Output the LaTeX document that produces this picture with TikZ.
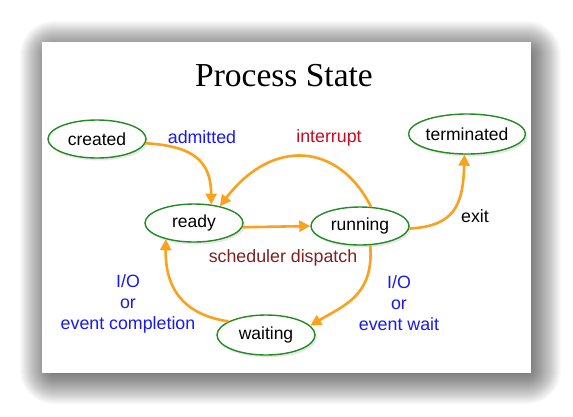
\documentclass[tikz,border=0pt]{standalone}
\usepackage{fontspec}
\setmainfont{Liberation Sans}
\newfontfamily\titlefont{Liberation Serif}
\usetikzlibrary{shapes.geometric,arrows.meta,shadows}
\definecolor{stgreen}{RGB}{34,139,34}
\definecolor{arrorange}{RGB}{250,162,30}
\definecolor{lblblue}{RGB}{25,25,240}
\definecolor{lblred}{RGB}{200,10,30}
\definecolor{lbldark}{RGB}{128,32,32}
\begin{document}
\begin{tikzpicture}[x=1pt,y=-1pt,
  state/.style={ellipse, draw=stgreen, line width=1.4pt, fill=white,
    minimum width=98pt, minimum height=38pt, inner sep=0pt,
    font=\fontsize{17.5}{17.5}\selectfont,
    drop shadow={opacity=0.18, shadow xshift=2pt, shadow yshift=-2.5pt}},
  trans/.style={draw=arrorange, line width=2.6pt,
    -{Triangle[length=11pt,width=11pt]}},
  lbl/.style={font=\fontsize{17.8}{21}\selectfont, align=center, inner sep=0pt}]
\useasboundingbox (0,0) rectangle (573,416);
\fill[white] (0,0) rectangle (573,416);
% card shadow
\foreach \s in {-6,...,26}{
  \fill[black, opacity=0.02, rounded corners={\s+8}]
    ({42-\s+4},{42-\s+5}) rectangle ({531+\s+4},{373+\s+5});
}
\fill[white] (42,42) rectangle (531,373);
% title
\node[font=\titlefont\fontsize{33.5}{33.5}\selectfont, inner sep=0pt] (title) at (284,76) {Process State};
% states
\node[state] (created) at (97,139) {created};
\node[state] (ready) at (194,223) {ready};
\node[state] (running) at (360,226) {running};
\node[state, minimum height=40pt] (terminated) at (467,134) {terminated};
\node[state, minimum height=40pt] (waiting) at (266,335) {waiting};
% transitions
\draw[trans] (created.-5) .. controls (192,146) and (211,160) .. (ready.47);
\draw[trans] (running.60) .. controls (338,142) and (272,138) .. (ready.33);
\draw[trans] (ready.-5) -- (running.west);
\draw[trans] (running.-3) .. controls (455,226) and (463,205) .. (terminated.-97);
\draw[trans] (running.-62) .. controls (374,295) and (345,305) .. (waiting.12);
\draw[trans] (waiting.160) .. controls (185,315) and (165,290) .. (ready.-150);
% labels
\node[lbl, text=lblblue] (ladm) at (202,137) {admitted};
\node[lbl, text=lblred] (lint) at (329,138) {interrupt};
\node[lbl, text=lbldark] (lsch) at (283,258) {scheduler dispatch};
\node[lbl, text=black] (lexit) at (475,216) {exit};
\node[lbl, text=lblblue] (lcomp) at (128,304) {I/O\\or\\event completion};
\node[lbl, text=lblblue] (lwait) at (399,303) {I/O\\or\\event wait};
\end{tikzpicture}
\end{document}
